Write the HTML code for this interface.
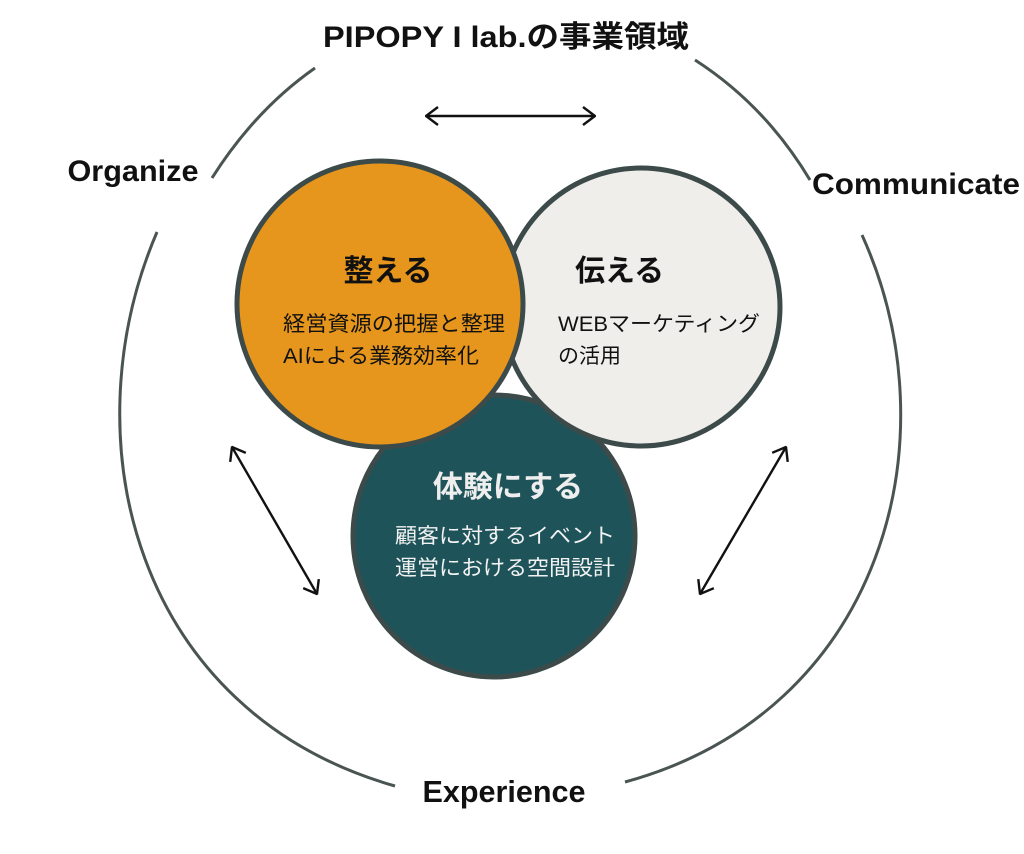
<!DOCTYPE html>
<html><head><meta charset="utf-8"><style>
html,body{margin:0;padding:0;background:#fff;}
svg{display:block}
text{font-family:"Liberation Sans","Noto Sans CJK JP",sans-serif;}
</style></head><body>
<svg width="1024" height="854" viewBox="0 0 1024 854" xmlns="http://www.w3.org/2000/svg">
<defs>
<marker id="ah" viewBox="0 0 14 20" refX="13" refY="10" markerWidth="14" markerHeight="20" markerUnits="userSpaceOnUse" orient="auto-start-reverse">
<path d="M1,1 L13,10 L1,19" fill="none" stroke="#111" stroke-width="2.4"/>
</marker>
</defs>
<g fill="none" stroke="#4a5553" stroke-width="3">
<path d="M315,68 Q255,110 212,178"/>
<path d="M695,60 Q765,105 810,180"/>
<path d="M157,232 C68,440 135,712 395,786"/>
<path d="M862,235 C955,440 882,712 625,782"/>
</g>
<line x1="426" y1="116" x2="595" y2="116" stroke="#111" stroke-width="2.4" marker-start="url(#ah)" marker-end="url(#ah)"/>
<line x1="232" y1="447" x2="317" y2="594" stroke="#111" stroke-width="2.4" marker-start="url(#ah)" marker-end="url(#ah)"/>
<line x1="786" y1="447" x2="700" y2="594" stroke="#111" stroke-width="2.4" marker-start="url(#ah)" marker-end="url(#ah)"/>
<circle cx="494" cy="536" r="141" fill="#1e5459" stroke="#3d4a4a" stroke-width="5"/>
<circle cx="641" cy="307" r="139" fill="#f0eeea" stroke="#3d4a4a" stroke-width="5"/>
<circle cx="380" cy="304" r="143" fill="#e6961c" stroke="#3d4a4a" stroke-width="5"/>
<text x="506" y="47" font-size="30" font-weight="bold" text-anchor="middle" fill="#111" textLength="366" lengthAdjust="spacingAndGlyphs">PIPOPY I lab.の事業領域</text>
<text x="133" y="181" font-size="30" font-weight="bold" text-anchor="middle" fill="#111" textLength="131" lengthAdjust="spacingAndGlyphs">Organize</text>
<text x="916" y="194" font-size="30" font-weight="bold" text-anchor="middle" fill="#111" textLength="208" lengthAdjust="spacingAndGlyphs">Communicate</text>
<text x="504" y="802" font-size="31" font-weight="bold" text-anchor="middle" fill="#111" textLength="163" lengthAdjust="spacingAndGlyphs">Experience</text>
<text x="388" y="281" font-size="30" font-weight="bold" text-anchor="middle" fill="#111">整える</text>
<text x="283" y="331" font-size="21" fill="#111" textLength="222" lengthAdjust="spacingAndGlyphs">経営資源の把握と整理</text>
<text x="283" y="363" font-size="21" fill="#111" textLength="196" lengthAdjust="spacingAndGlyphs">AIによる業務効率化</text>
<text x="575" y="281" font-size="30" font-weight="bold" fill="#111">伝える</text>
<text x="558" y="331" font-size="21" fill="#111" textLength="202" lengthAdjust="spacingAndGlyphs">WEBマーケティング</text>
<text x="558" y="363" font-size="21" fill="#111">の活用</text>
<text x="508" y="497" font-size="30" font-weight="bold" text-anchor="middle" fill="#eee">体験にする</text>
<text x="395" y="543" font-size="21" fill="#f2f2f2" textLength="220" lengthAdjust="spacingAndGlyphs">顧客に対するイベント</text>
<text x="395" y="575" font-size="21" fill="#f2f2f2" textLength="220" lengthAdjust="spacingAndGlyphs">運営における空間設計</text>
</svg>
</body></html>
